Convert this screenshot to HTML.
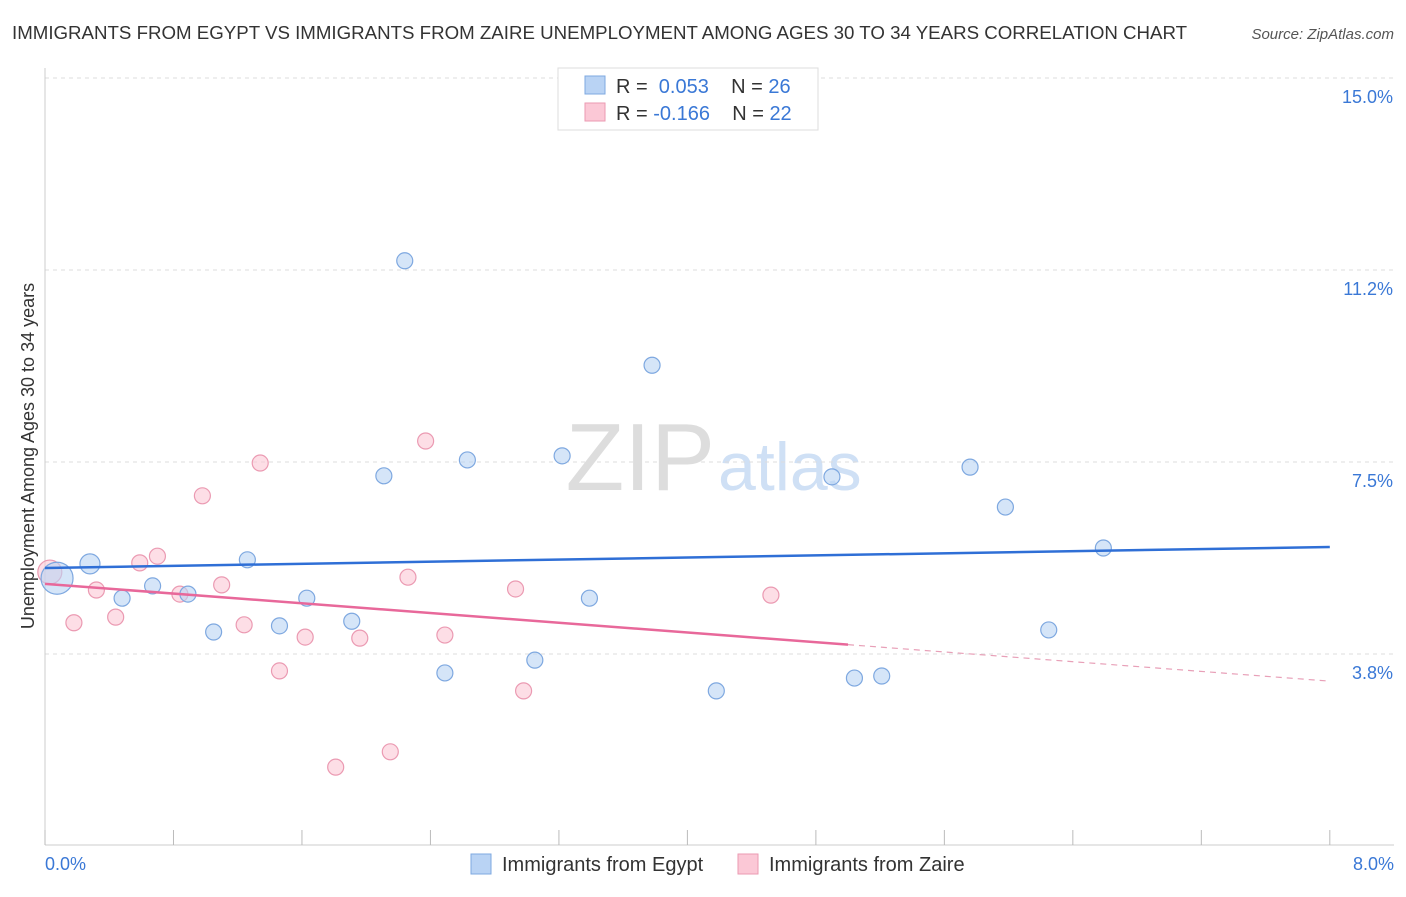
<!DOCTYPE html>
<html><head><meta charset="utf-8"><style>
body{margin:0;background:#fff;font-family:"Liberation Sans",sans-serif}
svg text{font-family:"Liberation Sans",sans-serif}
</style></head><body>
<svg width="1406" height="892" viewBox="0 0 1406 892">
<text x="12" y="39" font-size="18.7" fill="#333">IMMIGRANTS FROM EGYPT VS IMMIGRANTS FROM ZAIRE UNEMPLOYMENT AMONG AGES 30 TO 34 YEARS CORRELATION CHART</text>
<text x="1394" y="39" font-size="15" fill="#555" font-style="italic" text-anchor="end">Source: ZipAtlas.com</text>
<text x="715" y="490" font-size="96" fill="#ddd" text-anchor="end" font-family="Liberation Serif">ZIP</text>
<text x="718" y="490" font-size="68" fill="#cfe0f5">atlas</text>
<g id="grid"></g>
<g id="axes"></g>
<g id="marks"></g>
<text transform="translate(34,456) rotate(-90)" font-size="18" fill="#333" text-anchor="middle">Unemployment Among Ages 30 to 34 years</text>
<g>
<rect x="558" y="68" width="260" height="62" fill="#fff" stroke="#ddd"/>
<rect x="585" y="76" width="20" height="18" fill="#b9d3f4" stroke="#7ea8e0"/>
<text x="616" y="93" font-size="20" fill="#333">R = <tspan fill="#3a78d6">&#160;0.053</tspan>&#160;&#160;&#160;&#160;N = <tspan fill="#3a78d6">26</tspan></text>
<rect x="585" y="103" width="20" height="18" fill="#fbc8d6" stroke="#eb9ab2"/>
<text x="616" y="120" font-size="20" fill="#333">R = <tspan fill="#3a78d6">-0.166</tspan>&#160;&#160;&#160;&#160;N = <tspan fill="#3a78d6">22</tspan></text>
</g>
<g>
<rect x="471" y="854" width="20" height="20" fill="#b9d3f4" stroke="#7ea8e0"/>
<text x="502" y="871" font-size="20" fill="#333">Immigrants from Egypt</text>
<rect x="738" y="854" width="20" height="20" fill="#fbc8d6" stroke="#eb9ab2"/>
<text x="769" y="871" font-size="20" fill="#333">Immigrants from Zaire</text>
</g>
</svg>
<script>
const yTicks=[3.75,7.5,11.25,15];
const yTickLabels=["3.8%","7.5%","11.2%","15.0%"];
const xTickLabels=["0.0%","8.0%"];
const egyptX=[0.075,0.28,0.48,0.67,0.89,1.05,1.26,1.46,1.63,1.91,2.11,2.24,2.49,2.63,3.05,3.22,3.39,3.78,4.18,4.90,5.04,5.21,5.76,5.98,6.25,6.59];
const egyptY=[5.23,5.51,4.84,5.08,4.92,4.18,5.59,4.30,4.84,4.39,7.23,11.43,3.38,7.54,3.63,7.62,4.84,9.39,3.03,7.21,3.28,3.32,7.40,6.62,4.22,5.82];
const zaireX=[0.03,0.18,0.32,0.44,0.59,0.70,0.84,0.98,1.10,1.24,1.34,1.46,1.62,1.81,1.96,2.15,2.26,2.37,2.49,2.93,2.98,4.52];
const zaireY=[5.35,4.36,5.00,4.47,5.53,5.66,4.92,6.84,5.10,4.32,7.48,3.42,4.08,1.54,4.06,1.84,5.25,7.91,4.12,5.02,3.03,4.90];
const egyptTrend=[5.43,5.84];
const zaireTrend=[5.12,3.22];
const NS="http://www.w3.org/2000/svg";
const X=v=>45+v*160.6, Y=v=>846-v*51.2;
function mk(t,a,p){const e=document.createElementNS(NS,t);for(const k in a)e.setAttribute(k,a[k]);document.getElementById(p).appendChild(e);return e;}
yTicks.forEach((t,i)=>{
 const l=mk('line',{x1:45,x2:1394,y1:Y(t),y2:Y(t),stroke:'#ddd','stroke-dasharray':'4,4'},'grid');
 
 
 const tx=mk('text',{x:1393,y:Y(t)+25,'font-size':18,fill:'#3a78d6','text-anchor':'end'},'axes');
 tx.textContent=yTickLabels[i];
 
 
});
const ya=mk('line',{x1:45,x2:45,y1:68,y2:845,stroke:'#ccc'},'axes');


const xa=mk('line',{x1:45,x2:1394,y1:845,y2:845,stroke:'#ccc'},'axes');


for(let i=0;i<=10;i++){const t=mk('line',{x1:X(i*0.8),x2:X(i*0.8),y1:830,y2:845,stroke:'#bbb'},'axes');
 
 }
[[45,'start',0],[1394,'end',1]].forEach(([x,a,i])=>{const t=mk('text',{x:x,y:870,'font-size':18,fill:'#3a78d6','text-anchor':a},'axes');t.textContent=xTickLabels[i];
 
 });
zaireX.forEach((x,i)=>{const c=mk('circle',{cx:X(x),cy:Y(zaireY[i]),r:i==0?12:8,fill:'#fbc8d6','fill-opacity':0.6,stroke:'#eb9ab2','stroke-width':1.2},'marks');
 
 });
egyptX.forEach((x,i)=>{const c=mk('circle',{cx:X(x),cy:Y(egyptY[i]),r:i==0?16:(i==1?10:8),fill:'#b9d3f4','fill-opacity':0.6,stroke:'#7ea8e0','stroke-width':1.2},'marks');
 
 });
const eb=mk('line',{x1:X(0),y1:Y(egyptTrend[0]),x2:X(8),y2:Y(egyptTrend[1]),stroke:'#2f6fd6','stroke-width':2.5},'marks');


const zm=v=>zaireTrend[0]+(zaireTrend[1]-zaireTrend[0])*v/8;
const zs=mk('line',{x1:X(0),y1:Y(zm(0)),x2:X(5),y2:Y(zm(5)),stroke:'#e8689a','stroke-width':2.5},'marks');


const zd=mk('line',{x1:X(5),y1:Y(zm(5)),x2:X(8),y2:Y(zm(8)),stroke:'#e8a0b8','stroke-width':1.2,'stroke-dasharray':'6,5'},'marks');


</script>
</body></html>
